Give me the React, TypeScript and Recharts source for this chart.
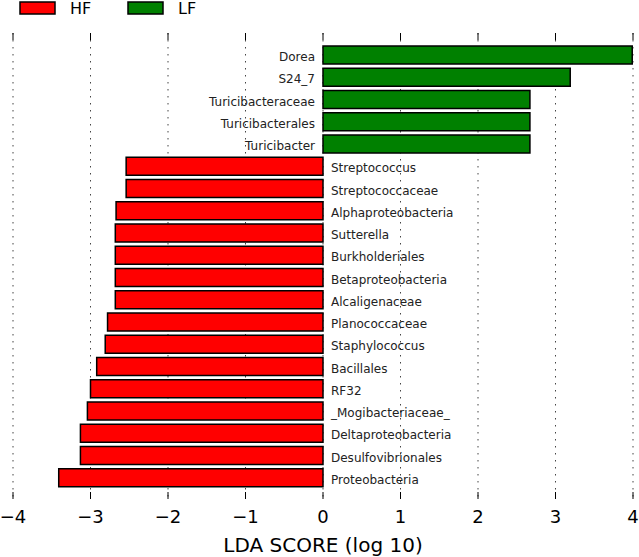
import { Bar, BarChart, XAxis, YAxis, CartesianGrid, Cell, LabelList } from "recharts"

// LEfSe result: taxa, LDA scores (log10), enriched group
const names = [
  "Dorea", "S24_7", "Turicibacteraceae", "Turicibacterales", "Turicibacter",
  "Streptococcus", "Streptococcaceae", "Alphaproteobacteria", "Sutterella",
  "Burkholderiales", "Betaproteobacteria", "Alcaligenaceae", "Planococcaceae",
  "Staphylococcus", "Bacillales", "RF32", "_Mogibacteriaceae_",
  "Deltaproteobacteria", "Desulfovibrionales", "Proteobacteria",
]
const scores = [
  3.99, 3.19, 2.67, 2.67, 2.67,
  -2.54, -2.54, -2.67, -2.68,
  -2.68, -2.68, -2.68, -2.78,
  -2.81, -2.92, -3.0, -3.04,
  -3.13, -3.13, -3.41,
]
const groups = [
  "LF", "LF", "LF", "LF", "LF",
  "HF", "HF", "HF", "HF", "HF", "HF", "HF", "HF",
  "HF", "HF", "HF", "HF", "HF", "HF", "HF",
]
const xTicks = [-4, -3, -2, -1, 0, 1, 2, 3, 4]

const groupColors: Record<string, string> = { HF: "#ff0000", LF: "#008000" }

const data = names.map((name, i) => ({ name, score: scores[i], group: groups[i] }))

const FONT = "'DejaVu Sans', sans-serif"

const fmt = (v: number) => (v < 0 ? `\u2212${-v}` : `${v}`)

// name label sits next to the zero line, on the opposite side of the bar
const renderName = (props: any) => {
  const { x, y, width, height, index } = props
  const v = scores[index]
  const a = Number(x)
  const b = Number(x) + Number(width)
  const zero = v >= 0 ? Math.min(a, b) : Math.max(a, b)
  return (
    <text
      x={v >= 0 ? zero - 8 : zero + 8}
      y={Number(y) + Number(height) / 2 + 2}
      textAnchor={v >= 0 ? "end" : "start"}
      dominantBaseline="central"
      fontSize={12}
      fontFamily={FONT}
      fill="#222"
    >
      {names[index]}
    </text>
  )
}

function LegendBox() {
  const items = [
    { key: "HF", box: 20, text: 70 },
    { key: "LF", box: 128, text: 178 },
  ]
  return (
    <svg width={639} height={20} style={{ position: "absolute", left: 0, top: 0 }}>
      {items.map((it) => (
        <g key={it.key}>
          <rect x={it.box} y={2} width={35} height={12} fill={groupColors[it.key]} stroke="#000" strokeWidth={1.5} />
          <text x={it.text} y={14.3} fontSize={16} fontFamily={FONT} fill="#000">
            {it.key}
          </text>
        </g>
      ))}
    </svg>
  )
}

export default function App() {
  return (
    <div style={{ position: "absolute", left: 0, top: 0, width: 639, height: 557, background: "#fff" }}>
      <LegendBox />
      <BarChart
        width={639}
        height={557}
        layout="vertical"
        data={data}
        margin={{ top: 32, right: 6, left: 13, bottom: 0 }}
      >
        <CartesianGrid
          horizontal={false}
          stroke="#444"
          strokeDasharray="1.5 5.5"
        />
        <XAxis
          xAxisId="top"
          orientation="top"
          type="number"
          domain={[-4, 4]}
          ticks={xTicks}
          height={1}
          axisLine={false}
          tick={() => <g />}
          tickSize={-7}
          tickLine={{ stroke: "#000" }}
          allowDataOverflow
        />
        <XAxis
          type="number"
          domain={[-4, 4]}
          ticks={xTicks}
          height={58}
          axisLine={false}
          tickSize={-7}
          tickMargin={18.5}
          tickLine={{ stroke: "#000" }}
          tickFormatter={fmt}
          tick={{ fontSize: 18, fill: "#000", fontFamily: FONT }}
          allowDataOverflow
          label={{
            value: "LDA SCORE (log 10)",
            position: "insideBottom",
            offset: 5,
            fontSize: 20,
            fill: "#000",
            fontFamily: FONT,
          }}
        />
        <YAxis type="category" dataKey="name" hide padding={{ top: 11, bottom: 10 }} />
        <Bar dataKey="score" barSize={18} stroke="#000" strokeWidth={1.5} isAnimationActive={false}>
          {data.map((d, i) => (
            <Cell key={`cell-${i}`} fill={groupColors[d.group]} />
          ))}
          <LabelList dataKey="name" content={renderName} />
        </Bar>
      </BarChart>
    </div>
  )
}
